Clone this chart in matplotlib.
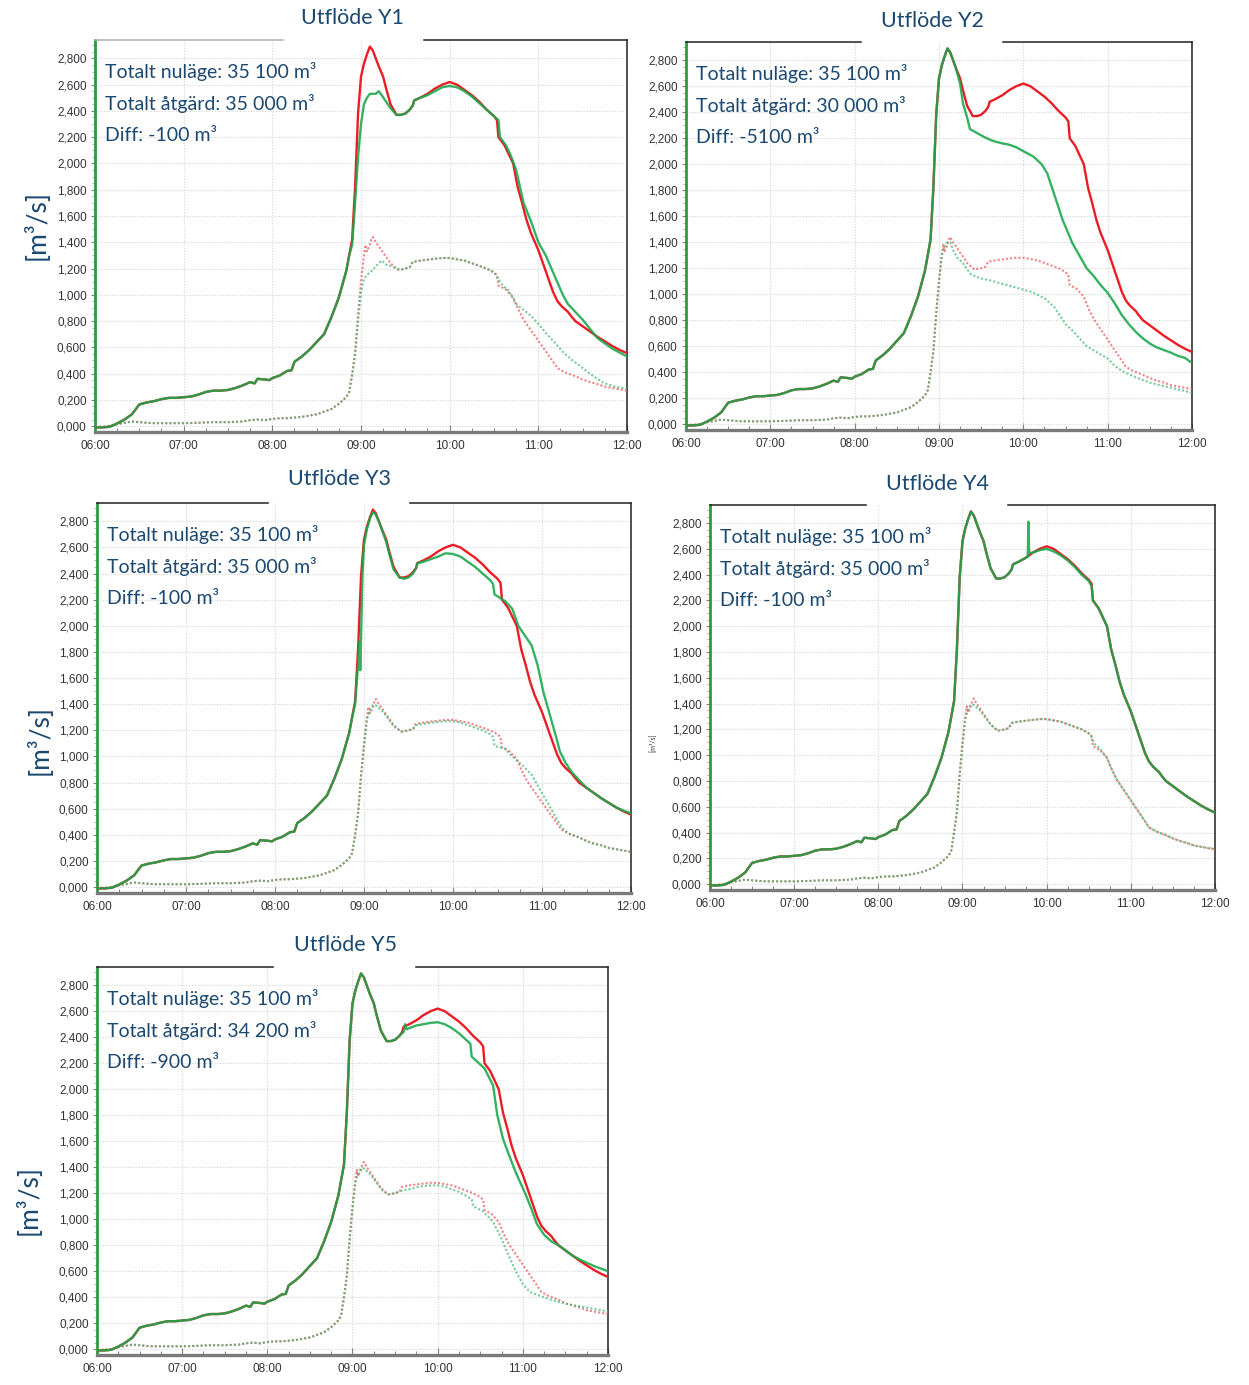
import numpy as np
import matplotlib
matplotlib.use("Agg")
import matplotlib.pyplot as plt
from matplotlib.ticker import FixedLocator, MultipleLocator, FuncFormatter

plt.rcParams['font.family'] = ['Lato', 'DejaVu Sans']

# ---------------------------------------------------------------- data
TITLES = ["Utflöde Y1", "Utflöde Y2", "Utflöde Y3", "Utflöde Y4", "Utflöde Y5"]
VOL_NULAGE = [35100, 35100, 35100, 35100, 35100]
VOL_ATGARD = [35000, 30000, 35000, 35000, 34200]
VOL_DIFF = [-100, -5100, -100, -100, -900]

X_TICK_LABELS = ["06:00", "07:00", "08:00", "09:00", "10:00", "11:00", "12:00"]
Y_TICKS = [0.0, 0.2, 0.4, 0.6, 0.8, 1.0, 1.2, 1.4, 1.6, 1.8, 2.0, 2.2, 2.4, 2.6, 2.8]

# common early part of the total flow (minutes after 06:00, m3/s)
HEAD_TOTAL_T = [0, 5, 10, 15, 20, 25, 30, 35, 40, 45, 50, 55, 60, 65, 70, 75, 80, 85,
                90, 95, 100, 105, 108, 110, 115, 118, 120, 125, 130, 133, 135, 140,
                145, 150, 155, 160, 165, 170]
HEAD_TOTAL = [-0.01, -0.01, -0.005, 0.02, 0.05, 0.09, 0.165, 0.18, 0.19, 0.205, 0.215,
              0.215, 0.22, 0.225, 0.24, 0.26, 0.27, 0.27, 0.275, 0.29, 0.31, 0.335,
              0.325, 0.36, 0.355, 0.35, 0.365, 0.385, 0.42, 0.425, 0.49, 0.53, 0.58,
              0.64, 0.70, 0.83, 0.98, 1.18]

# common early part of the second (dotted) flow
HEAD_DOT_T = [0, 5, 10, 15, 20, 25, 30, 35, 40, 50, 60, 70, 80, 90, 100, 105, 110,
              115, 120, 125, 130, 135, 140, 145, 150, 155, 160, 165, 170]
HEAD_DOT = [-0.005, -0.005, 0.0, 0.015, 0.025, 0.035, 0.03, 0.025, 0.022, 0.022,
            0.022, 0.025, 0.03, 0.03, 0.035, 0.045, 0.05, 0.045, 0.055, 0.06, 0.06,
            0.065, 0.07, 0.08, 0.09, 0.11, 0.13, 0.17, 0.22]

# nuläge (current state) - identical in every panel
NULAGE_TOTAL = [(172, 1.30), (174, 1.42), (176, 1.82), (178, 2.38), (180, 2.66), (182, 2.76),
                (184, 2.83), (186, 2.89), (188, 2.86), (190, 2.80), (192, 2.74), (195, 2.66),
                (197, 2.57), (200, 2.45), (204, 2.37), (207, 2.37), (210, 2.38), (213, 2.41),
                (215, 2.44), (216, 2.48), (220, 2.50), (225, 2.53), (230, 2.57), (235, 2.60),
                (240, 2.62), (245, 2.60), (250, 2.56), (255, 2.52), (260, 2.47), (265, 2.41),
                (270, 2.36), (272, 2.33), (273, 2.20), (277, 2.14), (280, 2.07), (283, 2.00),
                (286, 1.82), (289, 1.70), (292, 1.57), (295, 1.47), (300, 1.34), (305, 1.18),
                (310, 1.02), (313, 0.95), (316, 0.91), (320, 0.87), (322, 0.84), (325, 0.80),
                (330, 0.76), (335, 0.72), (340, 0.68), (345, 0.645), (350, 0.61), (355, 0.58),
                (360, 0.555)]
NULAGE_DOT = [(172, 0.26), (174, 0.40), (176, 0.56), (178, 0.85), (180, 1.10), (182, 1.30),
              (183, 1.38), (184, 1.33), (186, 1.38), (187, 1.42), (188, 1.44), (190, 1.40),
              (192, 1.37), (195, 1.32), (197, 1.29), (200, 1.24), (205, 1.19), (210, 1.20),
              (213, 1.21), (215, 1.25), (220, 1.26), (227, 1.27), (235, 1.28), (240, 1.28),
              (245, 1.27), (250, 1.26), (255, 1.24), (260, 1.22), (265, 1.20), (270, 1.17),
              (272, 1.15), (273, 1.07), (278, 1.04), (283, 0.98), (286, 0.90), (290, 0.81),
              (295, 0.73), (300, 0.65), (305, 0.57), (310, 0.49), (313, 0.44), (318, 0.41),
              (325, 0.38), (330, 0.355), (335, 0.335), (340, 0.32), (345, 0.30), (350, 0.29),
              (355, 0.28), (360, 0.27)]

# åtgärd (measure) per outlet
Y1_TOTAL = [(172, 1.30), (174, 1.38), (176, 1.70), (178, 2.05), (180, 2.30), (182, 2.45),
            (184, 2.50), (186, 2.53), (188, 2.53), (190, 2.53), (192, 2.55), (194, 2.52),
            (197, 2.47), (200, 2.42), (204, 2.37), (207, 2.37), (210, 2.38), (213, 2.41),
            (215, 2.44), (216, 2.48), (220, 2.50), (225, 2.52), (230, 2.55), (235, 2.58),
            (240, 2.59), (245, 2.58), (250, 2.55), (255, 2.51), (260, 2.46), (265, 2.41),
            (270, 2.36), (273, 2.33), (274, 2.20), (278, 2.14), (281, 2.07), (285, 1.95),
            (290, 1.70), (295, 1.56), (300, 1.40), (305, 1.30), (310, 1.17), (315, 1.04),
            (317, 0.99), (320, 0.93), (325, 0.87), (330, 0.81), (335, 0.74), (340, 0.67),
            (345, 0.63), (350, 0.59), (355, 0.56), (360, 0.53)]
Y1_DOT = [(172, 0.26), (174, 0.38), (176, 0.54), (178, 0.80), (180, 1.02), (182, 1.12),
          (184, 1.15), (188, 1.19), (192, 1.24), (194, 1.26), (197, 1.23), (200, 1.22),
          (204, 1.20), (207, 1.19), (210, 1.20), (213, 1.21), (215, 1.25), (220, 1.26),
          (227, 1.27), (235, 1.28), (240, 1.28), (245, 1.27), (250, 1.26), (255, 1.24),
          (260, 1.22), (265, 1.20), (270, 1.17), (273, 1.12), (276, 1.07), (280, 1.03),
          (285, 0.93), (290, 0.885), (295, 0.84), (300, 0.78), (305, 0.71), (310, 0.65),
          (317, 0.56), (322, 0.51), (328, 0.46), (336, 0.39), (344, 0.33), (352, 0.30),
          (360, 0.285)]

Y2_TOTAL = [(172, 1.30), (174, 1.42), (176, 1.82), (178, 2.38), (180, 2.66), (182, 2.76),
            (184, 2.83), (186, 2.89), (188, 2.86), (190, 2.80), (192, 2.74), (195, 2.62),
            (197, 2.47), (200, 2.36), (202, 2.27), (207, 2.24), (212, 2.21), (218, 2.18),
            (225, 2.16), (230, 2.15), (235, 2.13), (240, 2.10), (247, 2.06), (253, 2.00),
            (257, 1.93), (261, 1.80), (268, 1.57), (275, 1.39), (285, 1.20), (290, 1.14),
            (295, 1.07), (300, 1.01), (305, 0.93), (310, 0.84), (315, 0.77), (320, 0.71),
            (325, 0.66), (330, 0.62), (335, 0.59), (340, 0.57), (345, 0.55), (350, 0.525),
            (355, 0.51), (360, 0.47)]
Y2_DOT = [(172, 0.26), (174, 0.40), (176, 0.56), (178, 0.85), (180, 1.10), (182, 1.30),
          (184, 1.37), (186, 1.40), (188, 1.40), (190, 1.34), (193, 1.28), (197, 1.24),
          (200, 1.19), (203, 1.15), (210, 1.12), (215, 1.11), (225, 1.08), (235, 1.05),
          (245, 1.02), (255, 0.97), (262, 0.90), (270, 0.77), (275, 0.72), (285, 0.60),
          (300, 0.505), (305, 0.45), (310, 0.41), (320, 0.36), (330, 0.32), (337, 0.30),
          (345, 0.28), (355, 0.255), (360, 0.24)]

Y3_TOTAL = [(172, 1.30), (174, 1.40), (176, 1.70), (177, 1.88), (177.5, 1.66), (179, 2.40),
            (180, 2.62), (182, 2.74), (184, 2.82), (186, 2.87), (188, 2.85), (190, 2.80),
            (192, 2.74), (195, 2.64), (197, 2.55), (200, 2.43), (204, 2.37), (207, 2.36),
            (210, 2.37), (213, 2.40), (215, 2.44), (216, 2.48), (220, 2.49), (225, 2.51),
            (230, 2.53), (235, 2.555), (240, 2.55), (245, 2.53), (250, 2.49), (255, 2.45),
            (260, 2.40), (265, 2.35), (267, 2.32), (268, 2.24), (275, 2.19), (280, 2.13),
            (284, 2.00), (290, 1.90), (293, 1.85), (297, 1.70), (301, 1.49), (305, 1.33),
            (310, 1.13), (312, 1.04), (316, 0.95), (320, 0.88), (325, 0.82), (330, 0.76),
            (335, 0.72), (340, 0.68), (345, 0.645), (350, 0.61), (355, 0.585), (360, 0.565)]
Y3_DOT = [(172, 0.26), (174, 0.40), (176, 0.56), (178, 0.85), (180, 1.08), (182, 1.28),
          (184, 1.36), (186, 1.39), (188, 1.39), (190, 1.37), (192, 1.35), (195, 1.31),
          (197, 1.28), (200, 1.23), (205, 1.19), (210, 1.20), (213, 1.21), (215, 1.24),
          (220, 1.25), (227, 1.26), (235, 1.27), (240, 1.27), (245, 1.26), (250, 1.24),
          (255, 1.22), (260, 1.20), (265, 1.17), (267, 1.15), (268, 1.08), (275, 1.06),
          (280, 1.00), (287, 0.93), (293, 0.86), (300, 0.72), (305, 0.62), (310, 0.52),
          (314, 0.45), (318, 0.41), (325, 0.38), (330, 0.35), (335, 0.33), (340, 0.32),
          (345, 0.30), (350, 0.29), (355, 0.28), (360, 0.27)]

Y4_TOTAL = [(172, 1.30), (174, 1.42), (176, 1.82), (178, 2.38), (180, 2.66), (182, 2.76),
            (184, 2.83), (186, 2.89), (188, 2.86), (190, 2.80), (192, 2.74), (195, 2.66),
            (197, 2.57), (200, 2.45), (204, 2.37), (207, 2.37), (210, 2.38), (213, 2.41),
            (215, 2.44), (216, 2.48), (220, 2.50), (225, 2.53), (226.5, 2.54), (227, 2.81),
            (227.5, 2.57), (230, 2.57), (235, 2.59), (240, 2.60), (245, 2.58), (250, 2.55),
            (255, 2.51), (260, 2.46), (265, 2.40), (270, 2.35), (272, 2.31), (273, 2.20),
            (277, 2.14), (280, 2.07), (283, 2.00), (286, 1.82), (289, 1.70), (292, 1.57),
            (295, 1.47), (300, 1.34), (305, 1.18), (310, 1.02), (313, 0.95), (316, 0.91),
            (320, 0.87), (322, 0.84), (325, 0.80), (330, 0.76), (335, 0.72), (340, 0.68),
            (345, 0.645), (350, 0.61), (355, 0.58), (360, 0.555)]
Y4_DOT = [(172, 0.26), (174, 0.40), (176, 0.56), (178, 0.85), (180, 1.08), (182, 1.28),
          (184, 1.36), (186, 1.39), (188, 1.39), (190, 1.37), (192, 1.35), (195, 1.31),
          (197, 1.28), (200, 1.24), (205, 1.19), (210, 1.20), (213, 1.21), (215, 1.25),
          (220, 1.26), (227, 1.27), (235, 1.28), (240, 1.28), (245, 1.27), (250, 1.26),
          (255, 1.24), (260, 1.22), (265, 1.20), (270, 1.17), (272, 1.14), (274, 1.09),
          (278, 1.05), (283, 0.98), (286, 0.90), (290, 0.81), (295, 0.73), (300, 0.65),
          (305, 0.57), (310, 0.49), (313, 0.44), (318, 0.41), (325, 0.38), (330, 0.355),
          (335, 0.335), (340, 0.32), (345, 0.30), (350, 0.29), (355, 0.28), (360, 0.275)]

Y5_TOTAL = [(172, 1.30), (174, 1.42), (176, 1.82), (178, 2.38), (180, 2.66), (182, 2.76),
            (184, 2.83), (186, 2.89), (188, 2.86), (190, 2.80), (192, 2.74), (195, 2.66),
            (197, 2.57), (200, 2.45), (204, 2.37), (207, 2.37), (210, 2.38), (213, 2.41),
            (216, 2.44), (217, 2.50), (218, 2.46), (220, 2.47), (225, 2.49), (230, 2.50),
            (235, 2.51), (240, 2.515), (245, 2.50), (250, 2.47), (255, 2.43), (260, 2.38),
            (263, 2.35), (264, 2.25), (268, 2.21), (273, 2.16), (279, 2.03), (282, 1.80),
            (286, 1.62), (290, 1.50), (295, 1.36), (302, 1.19), (306, 1.08), (310, 0.96),
            (315, 0.88), (320, 0.83), (325, 0.80), (330, 0.76), (335, 0.72), (340, 0.69),
            (345, 0.665), (350, 0.64), (355, 0.62), (360, 0.60)]
Y5_DOT = [(172, 0.26), (174, 0.40), (176, 0.56), (178, 0.85), (180, 1.08), (182, 1.28),
          (184, 1.36), (186, 1.39), (188, 1.39), (190, 1.37), (192, 1.35), (195, 1.31),
          (197, 1.28), (200, 1.23), (205, 1.19), (210, 1.20), (215, 1.22), (220, 1.23),
          (227, 1.25), (235, 1.26), (240, 1.26), (245, 1.25), (250, 1.23), (255, 1.21),
          (260, 1.18), (264, 1.15), (265, 1.10), (272, 1.06), (279, 0.98), (285, 0.85),
          (290, 0.72), (295, 0.60), (300, 0.50), (305, 0.44), (312, 0.41), (320, 0.38),
          (330, 0.35), (340, 0.33), (350, 0.31), (360, 0.29)]

ATGARD_TOTAL = [Y1_TOTAL, Y2_TOTAL, Y3_TOTAL, Y4_TOTAL, Y5_TOTAL]
ATGARD_DOT = [Y1_DOT, Y2_DOT, Y3_DOT, Y4_DOT, Y5_DOT]

# ---------------------------------------------------------------- styling
W, H = 1249, 1385
TEXT_BLUE = '#1b4870'
RED = '#ec1c24'
GREEN = '#18a84c'
RED_DOT = '#ef5a5a'
GREEN_DOT = '#3cb46e'

# panel frames in pixels: left, top, right, bottom, title centre, gap in top border
PANELS = [
    dict(box=(95, 40, 627, 432), title=(352, 18), gap=(283, 424), top='#b0b0b0', ylab=(37, 225)),
    dict(box=(686, 42, 1192, 430), title=(932, 21), gap=(861, 1003), top='#202020', ylab=None),
    dict(box=(97, 503, 631, 893), title=(340, 479), gap=(268, 410), top='#202020', ylab=(40, 740)),
    dict(box=(710, 505, 1215, 890), title=(937, 484), gap=(866, 1008), top='#202020', ylab='tiny'),
    dict(box=(97, 967, 608, 1355), title=(345, 945), gap=(273, 416), top='#202020', ylab=(29, 1200)),
]


def series(head_t, head_v, tail):
    t = list(head_t) + [p[0] for p in tail]
    v = list(head_v) + [p[1] for p in tail]
    return 6 + np.asarray(t, dtype=float) / 60.0, np.asarray(v)


def sv_thousands(n):
    return f"{n:,}".replace(",", " ")


fig = plt.figure(figsize=(W / 100, H / 100), dpi=100)
fig.patch.set_facecolor('white')

for i, p in enumerate(PANELS):
    l, t, r, b = p['box']
    ax = fig.add_axes([l / W, 1 - b / H, (r - l) / W, (b - t) / H])
    ax.set_xlim(6, 12)
    ax.set_ylim(-0.045, 2.94)

    # dotted (secondary) flows
    x, y = series(HEAD_DOT_T, HEAD_DOT, NULAGE_DOT)
    ax.plot(x, y, color=RED_DOT, lw=1.5, ls=(0, (1, 1)), alpha=0.75, zorder=3)
    x, y = series(HEAD_DOT_T, HEAD_DOT, ATGARD_DOT[i])
    ax.plot(x, y, color=GREEN_DOT, lw=1.5, ls=(0, (1, 1)), alpha=0.7, zorder=3)

    # total flows
    x, y = series(HEAD_TOTAL_T, HEAD_TOTAL, NULAGE_TOTAL)
    ax.plot(x, y, color=RED, lw=1.7, zorder=4, solid_joinstyle='round')
    x, y = series(HEAD_TOTAL_T, HEAD_TOTAL, ATGARD_TOTAL[i])
    ax.plot(x, y, color=GREEN, lw=1.7, alpha=0.88, zorder=5, solid_joinstyle='round')

    # axes, ticks, grid
    ax.xaxis.set_major_locator(FixedLocator(range(6, 13)))
    ax.set_xticklabels(X_TICK_LABELS)
    ax.xaxis.set_minor_locator(MultipleLocator(0.25))
    ax.yaxis.set_major_locator(FixedLocator(Y_TICKS))
    ax.yaxis.set_major_formatter(FuncFormatter(lambda v, pos: f"{v:.3f}".replace('.', ',')))
    ax.yaxis.set_minor_locator(MultipleLocator(0.05))
    ax.tick_params(axis='x', which='major', direction='in', length=5, width=0.8,
                   color='#808080', labelsize=8.5, labelcolor='#333333', pad=6)
    ax.tick_params(axis='x', which='minor', direction='in', length=3, width=0.7, color='#808080')
    ax.tick_params(axis='y', which='major', direction='out', length=3, width=0.8,
                   color='#808080', labelsize=8.5, labelcolor='#333333', pad=3)
    ax.tick_params(axis='y', which='minor', direction='out', length=2, width=0.6, color='#a0a0a0')
    for lab in ax.get_xticklabels() + ax.get_yticklabels():
        lab.set_family(['Liberation Sans', 'DejaVu Sans'])
    ax.grid(True, which='major', color='#d4d4d4', ls=(0, (1, 1.5)), lw=0.8)
    ax.set_axisbelow(True)

    ax.spines['left'].set_color('#2e9a3e')
    ax.spines['left'].set_linewidth(2.0)
    ax.spines['bottom'].set_color('#7a7a7a')
    ax.spines['bottom'].set_linewidth(2.4)
    ax.spines['right'].set_color('#202020')
    ax.spines['right'].set_linewidth(1.1)
    ax.spines['top'].set_visible(False)
    g0 = (p['gap'][0] - l) / (r - l)
    g1 = (p['gap'][1] - l) / (r - l)
    ax.plot([0, g0], [1, 1], transform=ax.transAxes, color=p['top'], lw=1.1,
            clip_on=False, zorder=6)
    ax.plot([g1, 1], [1, 1], transform=ax.transAxes, color='#202020', lw=1.1,
            clip_on=False, zorder=6)

    # volume summary
    lines = [f"Totalt nuläge: {sv_thousands(VOL_NULAGE[i])} m³",
             f"Totalt åtgärd: {sv_thousands(VOL_ATGARD[i])} m³",
             f"Diff: {VOL_DIFF[i]} m³"]
    for k, s in enumerate(lines):
        ax.annotate(s, xy=(0, 1), xycoords='axes fraction',
                    xytext=(7.2, -22.5 - 23.0 * k), textcoords='offset points',
                    ha='left', va='center', fontsize=14, color=TEXT_BLUE, zorder=7)

    # title
    tx, ty = p['title']
    fig.text(tx / W, 1 - ty / H, TITLES[i], ha='center', va='center',
             fontsize=15.5, color=TEXT_BLUE)

    # unit label
    if p['ylab'] == 'tiny':
        fig.text(653 / W, 1 - 743 / H, "[m³/s]", rotation=90, ha='center', va='center',
                 fontsize=5, color='#333333')
    elif p['ylab'] is not None:
        yx, yy = p['ylab']
        fig.text(yx / W, 1 - yy / H, "[m³/s]", rotation=90, ha='center', va='center',
                 fontsize=19, color=TEXT_BLUE)

fig.savefig("out.png", dpi=100, facecolor='white')
